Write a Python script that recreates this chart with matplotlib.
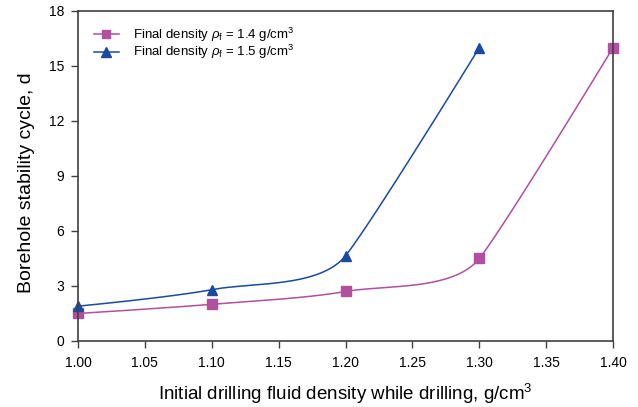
import numpy as np
import matplotlib
matplotlib.use('Agg')
import matplotlib.pyplot as plt

plt.rcParams['font.family'] = ['Liberation Sans', 'DejaVu Sans']
plt.rcParams['mathtext.fontset'] = 'custom'
plt.rcParams['mathtext.it'] = 'Liberation Sans:italic'
plt.rcParams['mathtext.rm'] = 'Liberation Sans'

x14 = [1.00, 1.10, 1.20, 1.30, 1.40]
y14 = [1.5, 2.0, 2.7, 4.5, 16.0]
x15 = [1.00, 1.10, 1.20, 1.30]
y15 = [1.9, 2.8, 4.65, 16.0]

pink = '#B0509E'
blue = '#1B4AA3'


def smooth(ax, xs, ys, n=50):
    # smoothed line like a spreadsheet chart, worked out in screen pixels
    tr = ax.transData
    p = tr.transform(np.column_stack([xs, ys]))
    out = []
    for i in range(len(p) - 1):
        p1, p2 = p[i], p[i + 1]
        arms = []
        for j in (i, i + 1):
            if j == 0 or j == len(p) - 1:
                arms.append(np.zeros(2))
                continue
            a = p[j] - p[j - 1]
            b = p[j + 1] - p[j]
            la, lb = np.linalg.norm(a), np.linalg.norm(b)
            # tangent leans to the longer neighbour segment
            d = a * la ** 2 + b * lb ** 2
            ln = min(0.3 * la, 0.3 * lb)
            arms.append(d / np.linalg.norm(d) * ln)
        c1 = p1 + arms[0]
        c2 = p2 - arms[1]
        t = np.linspace(0, 1, n)[:, None]
        bz = (1 - t) ** 3 * p1 + 3 * (1 - t) ** 2 * t * c1 + 3 * (1 - t) * t ** 2 * c2 + t ** 3 * p2
        out.append(bz)
    return tr.inverted().transform(np.vstack(out))


fig = plt.figure(figsize=(6.38, 4.07), dpi=100)
ax = fig.add_axes([0.1223, 0.1622, 0.8386, 0.8108])
ax.set_xlim(1.0, 1.4)
ax.set_ylim(0, 18)

s = smooth(ax, x14, y14)
ax.plot(s[:, 0], s[:, 1], color=pink, lw=1.1)
ax.plot(x14, y14, ls='none', marker='s', ms=6.5, color=pink, clip_on=False)
s = smooth(ax, x15, y15)
ax.plot(s[:, 0], s[:, 1], color=blue, lw=1.1)
ax.plot(x15, y15, ls='none', marker='^', ms=7.5, color=blue, clip_on=False)

h1, = ax.plot([], [], color=pink, lw=1.1, marker='s', ms=6)
h2, = ax.plot([], [], color=blue, lw=1.1, marker='^', ms=6.5)
ax.legend([h1, h2], [r'Final density $\rho_\mathrm{f}$ = 1.4 g/cm$^3$',
                     r'Final density $\rho_\mathrm{f}$ = 1.5 g/cm$^3$'],
          loc='upper left', bbox_to_anchor=(0.005, 0.995), frameon=False,
          fontsize=9.5, handlelength=1.9, handletextpad=1.1,
          labelspacing=-0.08, borderaxespad=0.6)

ticks = np.arange(1.0, 1.41, 0.05)
ax.set_xticks(ticks)
ax.set_xticklabels(['%.2f' % v for v in ticks])
ax.set_yticks(range(0, 19, 3))
ax.tick_params(direction='out', labelsize=10, color='#404040', width=1, length=5, pad=6)
ax.tick_params(axis='y', pad=5)
for sp in ax.spines.values():
    sp.set_color('#404040')
    sp.set_linewidth(1.2)

ax.set_xlabel('Initial drilling fluid density while drilling, g/cm$^3$', fontsize=13.5)
ax.xaxis.set_label_coords(0.5, -(394 - 341) / 330)
ax.xaxis.label.set_va('center')
ax.set_ylabel('Borehole stability cycle, d', fontsize=14)
ax.yaxis.set_label_coords(-52 / 535, 0.48)
ax.yaxis.label.set_va('center')

fig.savefig('out.png', dpi=100)
